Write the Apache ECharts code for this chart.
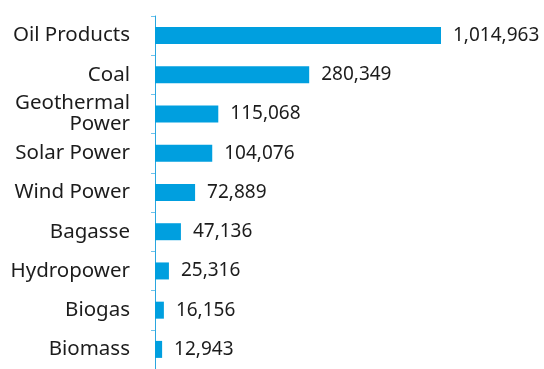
<!DOCTYPE html>
<html>
<head>
<meta charset="utf-8">
<script src="https://cdn.jsdelivr.net/npm/echarts@6/dist/echarts.min.js"></script>
<style>
  html, body { margin: 0; padding: 0; background: #ffffff; }
  #chart { width: 544px; height: 369px; }
</style>
</head>
<body>
<div id="chart"></div>
<script>
// Energy sources, listed from largest to smallest
const categories = [
  'Oil Products', 'Coal', 'Geothermal\nPower', 'Solar Power', 'Wind Power',
  'Bagasse', 'Hydropower', 'Biogas', 'Biomass'
];
const values = [1014963, 280349, 115068, 104076, 72889, 47136, 25316, 16156, 12943];

// Value axis is capped so the smaller sources stay readable; the largest bar runs to the edge
const axisMax = 520000;

const chart = echarts.init(document.getElementById('chart'), null, { renderer: 'canvas' });

chart.setOption({
  animation: false,
  backgroundColor: '#ffffff',
  grid: { left: 155, right: 103, top: 16, bottom: -2, containLabel: false },
  xAxis: {
    type: 'value',
    min: 0,
    max: axisMax,
    show: false
  },
  yAxis: {
    type: 'category',
    data: categories,
    inverse: true,
    axisLine: { show: true, lineStyle: { color: '#2aa6df', width: 1 } },
    axisTick: { show: true, length: 4, lineStyle: { color: '#6cc4ee', width: 1 } },
    axisLabel: {
      margin: 25,
      fontFamily: 'Noto Sans',
      fontSize: 20.5,
      lineHeight: 21,
      color: '#1c1c1c',
      align: 'right'
    },
    splitLine: { show: false }
  },
  series: [{
    type: 'bar',
    data: values,
    barWidth: 17,
    clip: true,
    itemStyle: { color: '#009fdf' },
    label: {
      show: true,
      position: 'right',
      distance: 12,
      fontFamily: 'Noto Sans',
      fontSize: 19,
      color: '#1c1c1c',
      formatter: p => p.value.toLocaleString('en-US')
    }
  }]
});
</script>
</body>
</html>
